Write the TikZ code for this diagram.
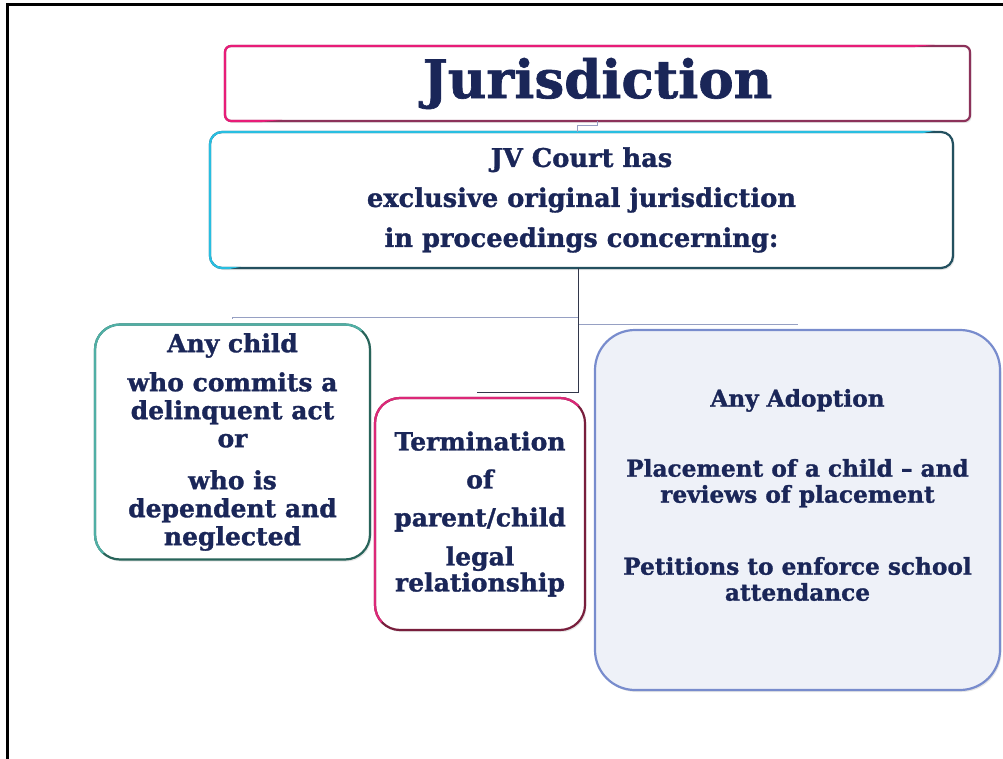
\documentclass[tikz,border=0pt]{standalone}
\usepackage{fontspec}
\setmainfont{DejaVu Serif}[BoldFeatures={FakeBold=1.2}]
\usetikzlibrary{positioning,shadows}

\definecolor{navyink}{RGB}{26,38,88}
\definecolor{pinkhi}{RGB}{232,28,120}
\definecolor{pinklo}{RGB}{140,50,90}
\definecolor{cyanhi}{RGB}{40,190,225}
\definecolor{cyanlo}{RGB}{35,80,95}
\definecolor{tealhi}{RGB}{80,175,165}
\definecolor{teallo}{RGB}{40,100,90}
\definecolor{rosehi}{RGB}{220,40,120}
\definecolor{roselo}{RGB}{120,30,60}
\definecolor{bluebd}{RGB}{120,140,205}
\definecolor{bluefill}{RGB}{238,241,248}
\definecolor{linkgray}{RGB}{150,160,195}
\definecolor{stemdark}{RGB}{50,55,75}

\tikzset{
  box/.style={line width=2.2pt, fill=white, align=center, inner sep=0pt, outer sep=0pt,
    text=navyink, font=\bfseries, drop shadow={shadow xshift=1.5pt, shadow yshift=-2pt, opacity=0.2}},
  link/.style={line width=1pt, draw=linkgray},
  stem/.style={line width=1pt, draw=stemdark},
}

% light top/left edge over a dark box border
\newcommand{\edgehi}[3]{%
  \begin{scope}
    \clip ([shift={(-6pt,-6pt)}]#1.south west) -- ([shift={(-6pt,6pt)}]#1.north west)
      -- ([shift={(6pt,6pt)}]#1.north east) -- cycle;
    \draw[#2, line width=2.2pt, rounded corners=#3] (#1.south west) rectangle (#1.north east);
  \end{scope}}

\begin{document}
\begin{tikzpicture}[x=1pt,y=-1pt]
\useasboundingbox (0,0) rectangle (1003,759);
\draw[line width=3pt] (7,759) -- (7,5) -- (1003,5);

\node[box, draw=pinklo, rounded corners=6pt, minimum width=745pt, minimum height=75pt,
  font=\bfseries\fontsize{53}{56}\selectfont] (title) at (597.5,83.5) {Jurisdiction};
\edgehi{title}{pinkhi}{6pt}

\node[box, draw=cyanlo, rounded corners=12pt, minimum width=743pt, minimum height=136pt,
  font=\bfseries\fontsize{25.7}{40}\selectfont] (court) at (581.5,200)
  {JV Court has\\ exclusive original jurisdiction\\ in proceedings concerning:};
\edgehi{court}{cyanhi}{12pt}

\node[box, draw=teallo, rounded corners=25pt, minimum width=275pt, minimum height=235pt,
  font=\bfseries\fontsize{25}{28}\selectfont] (child) at (232.5,442)
  {Any child\\[11pt] who commits a\\ delinquent act\\ or\\[14pt] who is\\ dependent and\\ neglected};
\edgehi{child}{tealhi}{25pt}

\node[box, draw=roselo, rounded corners=25pt, minimum width=210pt, minimum height=232pt,
  font=\bfseries\fontsize{25}{26}\selectfont] (termination) at (480,514)
  {Termination\\[12pt] of\\[12pt] parent/child\\[13pt] legal\\ relationship};
\edgehi{termination}{rosehi}{25pt}

\node[box, draw=bluebd, fill=bluefill, rounded corners=40pt, minimum width=405pt,
  minimum height=360pt] (adoption) at (797.5,510) {};
\node[align=center, text=navyink, font=\bfseries\fontsize{23.2}{26}\selectfont]
  (adoptiontext) at ([yshift=15pt]adoption.center)
  {Any Adoption\\[44pt] Placement of a child -- and\\ reviews of placement\\[46pt]
   Petitions to enforce school\\ attendance};

% connectors
\draw[link] (title.south) -- ++(0,5) -| ([xshift=-4pt]court.north);
\coordinate (split) at ([xshift=-3.5pt,yshift=-49pt]court.south);
\coordinate (splitr) at ([xshift=-3.5pt,yshift=-56pt]court.south);
\draw[link] (split) -| ([yshift=6pt]child.north);
\draw[link] (splitr) -| ([yshift=6pt]adoption.north);
\draw[stem] ([xshift=-3.5pt]court.south) |- ([yshift=6pt,xshift=-3pt]termination.north);
\end{tikzpicture}
\end{document}
